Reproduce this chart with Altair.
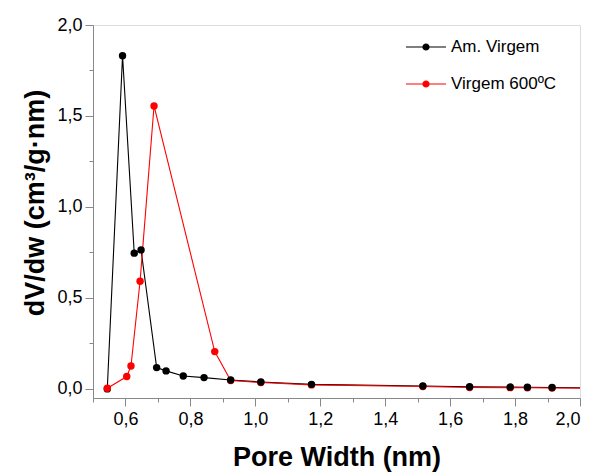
import altair as alt
import pandas as pd

# ---- data ----
series_names = ["Am. Virgem", "Virgem 600ºC"]

am_x = [0.544, 0.591, 0.627, 0.648, 0.696, 0.725, 0.778, 0.842, 0.924, 1.017,
        1.173, 1.516, 1.660, 1.785, 1.838, 1.914, 2.030]
am_y = [0.000, 1.831, 0.746, 0.764, 0.117, 0.099, 0.071, 0.062, 0.049, 0.038,
        0.025, 0.016, 0.012, 0.010, 0.009, 0.008, 0.006]

v6_x = [0.544, 0.604, 0.617, 0.645, 0.688, 0.875, 0.924, 1.017, 1.173, 1.516,
        1.660, 1.785, 1.838, 1.914, 2.030]
v6_y = [0.004, 0.068, 0.126, 0.592, 1.555, 0.205, 0.046, 0.035, 0.022, 0.013,
        0.008, 0.007, 0.006, 0.005, 0.003]

x_ticks = [0.5, 0.6, 0.7, 0.8, 0.9, 1.0, 1.1, 1.2, 1.3, 1.4, 1.5, 1.6, 1.7, 1.8, 1.9, 2.0]
y_ticks = [0.0, 0.25, 0.5, 0.75, 1.0, 1.25, 1.5, 1.75, 2.0]

colors = ["#000000", "#ff0000"]

rows = []
for i, (x, y) in enumerate(zip(am_x, am_y)):
    rows.append({"w": x, "v": y, "s": series_names[0], "o": i})
for i, (x, y) in enumerate(zip(v6_x, v6_y)):
    rows.append({"w": x, "v": y, "s": series_names[1], "o": i})
df = pd.DataFrame(rows)

FONT = "Liberation Sans"

x_enc = alt.X(
    "w:Q",
    scale=alt.Scale(domain=[0.5, 2.0], nice=False, zero=False),
    axis=alt.Axis(
        values=x_ticks,
        title="Pore Width (nm)",
        grid=False,
        labelExpr="round(datum.value*10) % 2 == 0 ? replace(format(datum.value, '.1f'), '.', ',') : ''",
        tickSize={"condition": {"test": "round(datum.value*10) % 2 == 0", "value": 8}, "value": 4},
        labelFontSize=18,
        labelPadding=4,
        titleFontSize=27,
        titleFontWeight="bold",
        titleX=243.5,
        titleY=67,
        titleAlign="center",
        titleBaseline="alphabetic",
    ),
)
y_enc = alt.Y(
    "v:Q",
    scale=alt.Scale(domain=[-0.05, 2.0], nice=False, zero=False),
    axis=alt.Axis(
        values=y_ticks,
        title="dV/dw (cm³/g·nm)",
        grid=False,
        labelExpr="round(datum.value*4) % 2 == 0 ? replace(format(datum.value, '.1f'), '.', ',') : ''",
        tickSize={"condition": {"test": "round(datum.value*4) % 2 == 0", "value": 8}, "value": 4},
        labelFontSize=18,
        labelPadding=3,
        titleFontSize=27,
        titleFontWeight="bold",
        titleAngle=-90,
        titleX=-50,
        titleY=177.5,
        titleAlign="center",
        titleBaseline="alphabetic",
    ),
)
color_enc = alt.Color(
    "s:N",
    scale=alt.Scale(domain=series_names, range=colors),
    sort=series_names,
    legend=alt.Legend(
        title=None,
        orient="none",
        legendX=312,
        legendY=1,
        padding=0,
        symbolType="M-1,0H1M-0.15,0A0.15,0.15 0 1,0 0.15,0A0.15,0.15 0 1,0 -0.15,0Z",
        symbolSize=1600,
        symbolStrokeWidth=1.2,
        labelFontSize=17,
        labelOffset=4,
        rowPadding=8,
        labelFont=FONT,
    ),
)

base = alt.Chart(df).encode(x=x_enc, y=y_enc, color=color_enc, order="o:Q")
lines = base.mark_line(strokeWidth=1.1, clip=True)
points = base.mark_point(filled=True, opacity=1, size=55, shape="circle", clip=True)

chart = alt.layer(lines, points).properties(
    width=487,
    height=373,
    autosize=alt.AutoSizeParams(type="none"),
    padding={"left": 93, "top": 25, "right": 15, "bottom": 74},
).configure_view(
    stroke="#555555", strokeWidth=1.5
).configure_axis(
    labelFont=FONT,
    titleFont=FONT,
    labelColor="#000000",
    titleColor="#000000",
    domainColor="#000000",
    domainWidth=1.5,
    tickColor="#000000",
    tickWidth=1.5,
).configure(background="#ffffff")

chart.save("out.html", embed_options={"renderer": "svg", "actions": False})
